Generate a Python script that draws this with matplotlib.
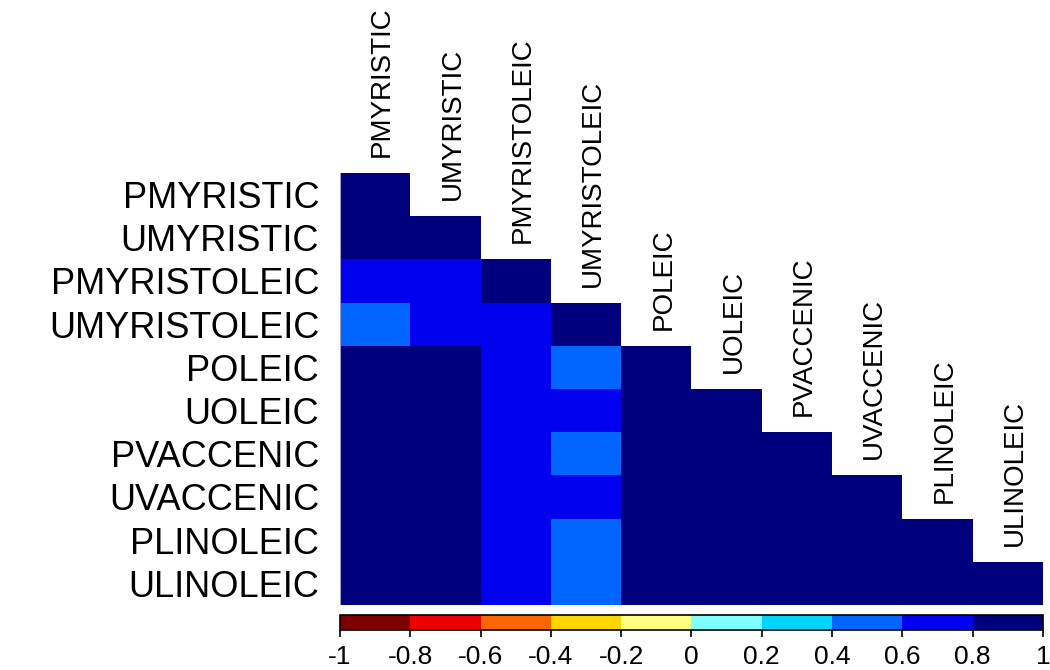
import matplotlib
matplotlib.use("Agg")
import matplotlib.pyplot as plt
import numpy as np
from matplotlib.colors import ListedColormap, BoundaryNorm

plt.rcParams['font.family'] = ['Liberation Sans', 'DejaVu Sans']
plt.rcParams['axes.unicode_minus'] = False

labels = ['PMYRISTIC', 'UMYRISTIC', 'PMYRISTOLEIC', 'UMYRISTOLEIC', 'POLEIC',
          'UOLEIC', 'PVACCENIC', 'UVACCENIC', 'PLINOLEIC', 'ULINOLEIC']

# lower triangle of the correlation matrix (row by row, incl. diagonal)
corr_rows = [
    [1.0],
    [0.92, 1.0],
    [0.72, 0.74, 1.0],
    [0.55, 0.70, 0.75, 1.0],
    [0.93, 0.91, 0.70, 0.52, 1.0],
    [0.92, 0.93, 0.72, 0.62, 0.97, 1.0],
    [0.90, 0.88, 0.68, 0.50, 0.95, 0.93, 1.0],
    [0.91, 0.92, 0.71, 0.61, 0.94, 0.96, 0.96, 1.0],
    [0.88, 0.87, 0.66, 0.48, 0.93, 0.91, 0.94, 0.92, 1.0],
    [0.87, 0.89, 0.67, 0.53, 0.92, 0.94, 0.92, 0.95, 0.97, 1.0],
]

bounds = [-1, -0.8, -0.6, -0.4, -0.2, 0, 0.2, 0.4, 0.6, 0.8, 1]
colors = ['#7F0000', '#EE0000', '#FF6600', '#FFD700', '#FFFF80',
          '#80FFFF', '#00D4FF', '#0066FF', '#0000EE', '#00007F']
tick_text = ['-1', '-0.8', '-0.6', '-0.4', '-0.2', '0', '0.2', '0.4', '0.6', '0.8', '1']

n = len(labels)
mat = np.full((n, n), np.nan)
for i, row in enumerate(corr_rows):
    mat[i, :len(row)] = row
mat = np.ma.masked_invalid(mat)

cmap = ListedColormap(colors)
norm = BoundaryNorm(bounds, cmap.N)

left, right = 340 / 1050, 1043 / 1050
fig = plt.figure(figsize=(10.5, 6.7), dpi=100)
ax = fig.add_axes([left, 1 - 605 / 670, right - left, 432 / 670])
mesh = ax.pcolormesh(np.arange(n + 1), np.arange(n + 1), mat, cmap=cmap, norm=norm)
ax.set_xlim(0, n)
ax.set_ylim(n, 0)
for s in ax.spines.values():
    s.set_visible(False)
ax.axvline(0, color='#9999cc', lw=0.8)

ax.set_xticks([])
ax.set_yticks(np.arange(n) + 0.5)
ax.set_yticklabels(labels, fontsize=26)
ax.tick_params(axis='y', length=0, pad=15)

for j, lab in enumerate(labels):
    ax.text(j + 0.6, j - 0.37, lab, rotation=90, ha='center', va='bottom',
            fontsize=20, clip_on=False)

cax = fig.add_axes([left, 1 - 630 / 670, right - left, 15 / 670])
cb = fig.colorbar(mesh, cax=cax, orientation='horizontal', ticks=bounds)
cb.set_ticklabels(tick_text)
cb.outline.set_linewidth(1.2)
cax.tick_params(axis='x', length=5, width=1.2, pad=6, labelsize=19)

fig.savefig('out.png', dpi=100)
